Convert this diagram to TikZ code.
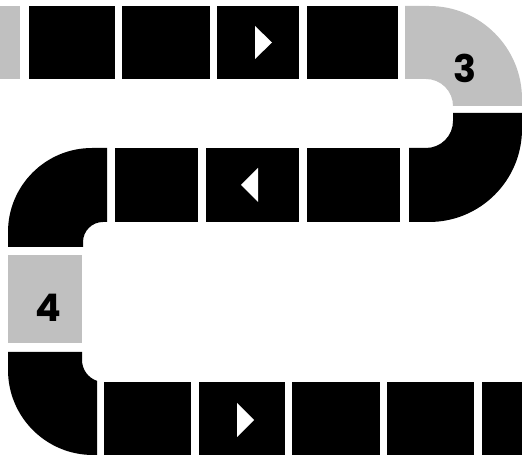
\documentclass[tikz,border=0pt]{standalone}
\usepackage{fontspec}
\newfontfamily\numfont{Poppins}
\definecolor{tilegray}{RGB}{192,192,192}
\tikzset{
  blacktile/.style={fill=black},
  graytile/.style={fill=tilegray},
  dirarrow/.style={fill=white},
  numlabel/.style={font=\numfont\bfseries\fontsize{38}{38}\selectfont, text=black, inner sep=0pt}
}
\begin{document}
\begin{tikzpicture}[x=1pt,y=1pt]
\useasboundingbox (0,0) rectangle (522,455);
% top row
\fill[graytile] (0,376) rectangle (20,449);
\fill[blacktile] (29,376) rectangle (115,449);
\fill[blacktile] (122,376) rectangle (210,449);
\fill[blacktile] (217,376) rectangle (299,449);
\fill[blacktile] (307,376) rectangle (398,449);
% right U-turn, gray half
\fill[graytile] (405,449) -- (429,449) arc[start angle=90,end angle=0,radius=93]
  -- (522,349) -- (453,349) arc[start angle=0,end angle=90,radius=27] -- (405,376) -- cycle;
% right U-turn, black half
\fill[blacktile] (522,342) -- (453,342) -- (453,334) arc[start angle=0,end angle=-90,radius=27]
  -- (409,307) -- (409,233) -- (429,233) arc[start angle=-90,end angle=0,radius=93] -- cycle;
% second row
\fill[blacktile] (115,233) rectangle (198,307);
\fill[blacktile] (206,233) rectangle (299,307);
\fill[blacktile] (307,233) rectangle (400,307);
% upper left corner
\fill[blacktile] (107,307) -- (107,233) -- (103,233) arc[start angle=90,end angle=180,radius=20]
  -- (83,208) -- (8,208) -- (8,223) arc[start angle=180,end angle=90,radius=84] -- cycle;
% gray tile 4
\fill[graytile] (8,112) rectangle (82,200);
% lower left corner
\fill[blacktile] (8,103) -- (82,103) -- (82,95) arc[start angle=180,end angle=251.5,radius=22]
  -- (97,0) -- (93,0) arc[start angle=270,end angle=180,radius=85] -- cycle;
% bottom row
\fill[blacktile] (104,0) rectangle (191,73);
\fill[blacktile] (199,0) rectangle (285,73);
\fill[blacktile] (292,0) rectangle (380,73);
\fill[blacktile] (387,0) rectangle (474,73);
\fill[blacktile] (482,0) rectangle (522,73);
% arrows
\fill[dirarrow] (255,429) -- (272,412.5) -- (255,396) -- cycle;
\fill[dirarrow] (258,287) -- (241,270) -- (258,253) -- cycle;
\fill[dirarrow] (237,52) -- (254,35) -- (237,18) -- cycle;
% labels
\node[numlabel] (three) at (465,387) {3};
\node[numlabel] (four) at (48,147) {4};
\end{tikzpicture}
\end{document}
